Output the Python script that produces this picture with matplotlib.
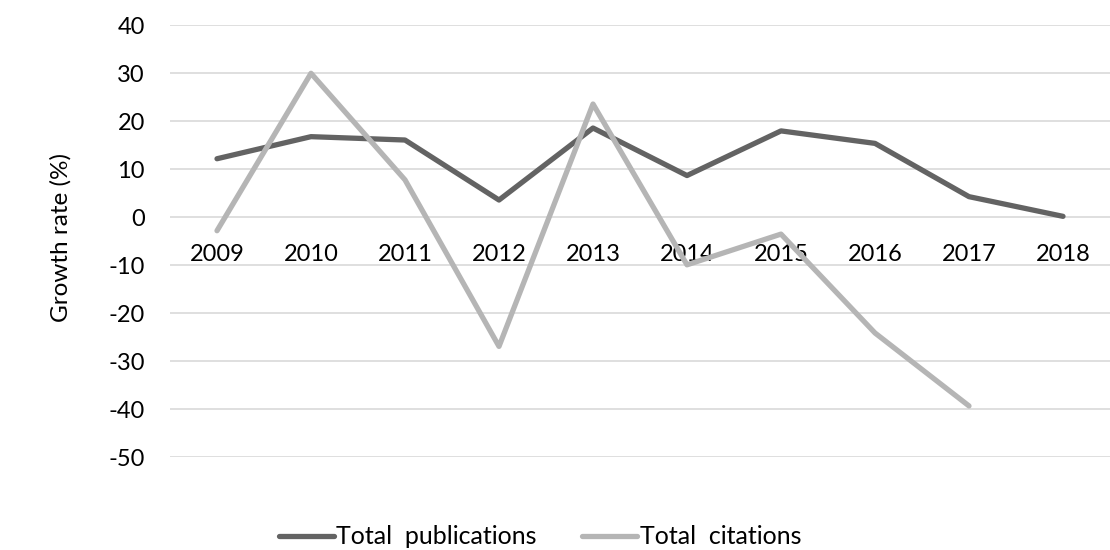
import numpy as np
import matplotlib.pyplot as plt

plt.rcParams['font.family'] = ['Lato', 'DejaVu Sans']
plt.rcParams['axes.unicode_minus'] = False

# values
years = ['2009', '2010', '2011', '2012', '2013', '2014', '2015', '2016', '2017', '2018']
publications = [12.2, 16.8, 16.1, 3.6, 18.6, 8.7, 18.0, 15.4, 4.3, 0.2]
citations = [-2.8, 30.0, 7.8, -26.9, 23.6, -9.9, -3.5, -24.1, -39.3, np.nan]

fig = plt.figure(figsize=(11.1, 5.5), dpi=100)
ax = fig.add_axes([170 / 1110, 1 - 457.3 / 550, 940 / 1110, 432 / 550])

x = np.arange(len(years))
ax.plot(x, publications, color='#636363', lw=3.8, solid_capstyle='round',
        solid_joinstyle='round', label='Total  publications', zorder=3)
ax.plot(x, citations, color='#b5b5b5', lw=3.8, solid_capstyle='round',
        solid_joinstyle='round', label='Total  citations', zorder=3)

ax.set_xlim(-0.5, len(years) - 0.5)
ax.set_ylim(-50, 40)
ax.set_yticks(range(-50, 41, 10))
ax.grid(axis='y', color='#d9d9d9', lw=1.2)
ax.set_axisbelow(True)

# category labels sit under the zero line, like Excel
ax.spines['bottom'].set_position(('data', 0))
for s in ['top', 'right', 'left', 'bottom']:
    ax.spines[s].set_visible(False)
ax.set_xticks(x)
ax.set_xticklabels(years)
ax.tick_params(axis='x', length=0, pad=19, labelsize=17, colors='black')
ax.tick_params(axis='y', length=0, pad=18, labelsize=17, colors='black')

fig.text(61 / 1110, 1 - 238 / 550, 'Growth rate (%)', rotation=90, fontsize=17.5,
         ha='center', va='center')

fig.legend(loc='center', bbox_to_anchor=(540 / 1110, 1 - 537 / 550), ncol=2,
           frameon=False, fontsize=18, handlelength=2.2, handletextpad=0.1,
           columnspacing=1.8, borderpad=0, borderaxespad=0)

fig.savefig('out.png', dpi=100)
